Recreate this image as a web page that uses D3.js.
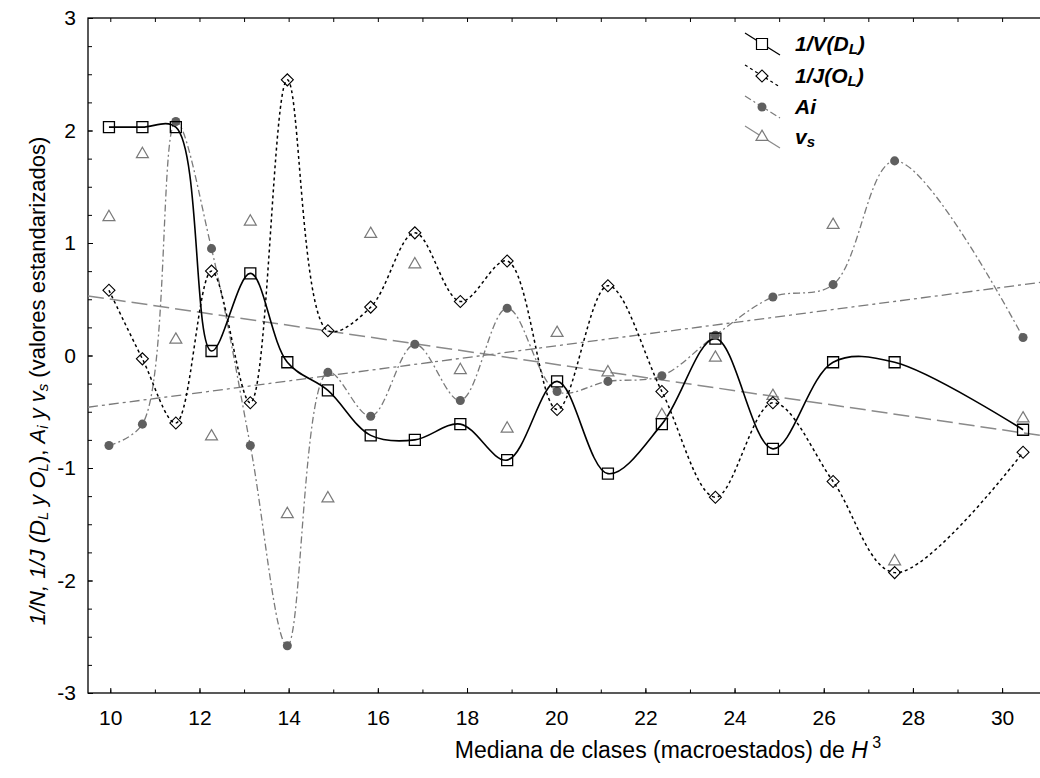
<!DOCTYPE html>
<html>
<head>
<meta charset="utf-8">
<script src="https://cdn.jsdelivr.net/npm/d3@7"></script>
<style>
  body { margin: 0; background: #fff; }
  svg text { font-family: "Liberation Sans", Arial, sans-serif; }
</style>
</head>
<body>
<div id="chart"></div>
<script>
// class medians (x) and the four standardized series
const xMedian = [9.97, 10.72, 11.47, 12.27, 13.14, 13.97, 14.88, 15.84, 16.83, 17.85, 18.9, 20.02, 21.16, 22.37, 23.57, 24.86, 26.21, 27.59, 30.47];
const invV = [2.03, 2.03, 2.03, 0.04, 0.73, -0.06, -0.31, -0.71, -0.75, -0.61, -0.93, -0.23, -1.05, -0.61, 0.15, -0.83, -0.06, -0.06, -0.66];
const invJ = [0.58, -0.03, -0.60, 0.75, -0.42, 2.45, 0.22, 0.43, 1.09, 0.48, 0.84, -0.48, 0.62, -0.32, -1.26, -0.42, -1.12, -1.93, -0.86];
const ai = [-0.80, -0.61, 2.08, 0.95, -0.80, -2.58, -0.15, -0.54, 0.10, -0.40, 0.42, -0.32, -0.23, -0.18, 0.18, 0.52, 0.63, 1.73, 0.16];
const vs = [1.23, 1.79, 0.14, -0.72, 1.19, -1.41, -1.27, 1.08, 0.81, -0.13, -0.65, 0.20, -0.15, -0.53, -0.02, -0.36, 1.16, -1.83, -0.56];

// linear fits (values at both ends of the x range)
const fitX = [9.5, 30.85];
const aiFit = [-0.46, 0.65];
const vsFit = [0.53, -0.71];

const xTicks = [10, 12, 14, 16, 18, 20, 22, 24, 26, 28, 30];
const yTicks = [-3, -2, -1, 0, 1, 2, 3];

const W = 1040, H = 778;
const plot = { left: 88, right: 1040, top: 18, bottom: 693 };

const svg = d3.select("#chart").append("svg")
    .attr("width", W)
    .attr("height", H);

const x = d3.scaleLinear().domain([9.5, 30.85]).range([plot.left, plot.right]);
const y = d3.scaleLinear().domain([-3, 3]).range([plot.bottom, plot.top]);

// axes with inward ticks
const minorX = d3.range(10, 31, 1);
const minorY = d3.range(-3, 3.01, 0.25);
const plain = d => String(d);

svg.append("g")
    .attr("transform", `translate(0,${plot.bottom})`)
    .call(d3.axisBottom(x).tickValues(minorX).tickSizeInner(-3.5).tickSizeOuter(0).tickFormat(""))
    .call(g => g.select(".domain").remove());
svg.append("g")
    .attr("transform", `translate(0,${plot.bottom})`)
    .call(d3.axisBottom(x).tickValues(xTicks).tickSizeInner(-5).tickSizeOuter(0).tickPadding(17).tickFormat(plain))
    .call(g => g.select(".domain").remove())
    .call(g => g.selectAll("text").attr("font-size", 21).attr("fill", "#000"));

svg.append("g")
    .attr("transform", `translate(0,${plot.top})`)
    .call(d3.axisTop(x).tickValues(minorX).tickSizeInner(-4).tickSizeOuter(0).tickFormat(""))
    .call(g => g.select(".domain").remove());

svg.append("g")
    .attr("transform", `translate(${plot.left},0)`)
    .call(d3.axisLeft(y).tickValues(minorY).tickSizeInner(-4).tickSizeOuter(0).tickFormat(""))
    .call(g => g.select(".domain").remove());
svg.append("g")
    .attr("transform", `translate(${plot.left},0)`)
    .call(d3.axisLeft(y).tickValues(yTicks).tickSizeInner(-5).tickSizeOuter(0).tickPadding(12).tickFormat(plain))
    .call(g => g.select(".domain").remove())
    .call(g => g.selectAll("text").attr("font-size", 21).attr("fill", "#000"));

// frame
svg.append("rect")
    .attr("x", plot.left).attr("y", plot.top)
    .attr("width", plot.right - plot.left + 5)
    .attr("height", plot.bottom - plot.top)
    .attr("fill", "none")
    .attr("stroke", "#000")
    .attr("stroke-width", 1.3);

svg.append("clipPath").attr("id", "clip")
    .append("rect")
    .attr("x", plot.left).attr("y", plot.top)
    .attr("width", plot.right - plot.left)
    .attr("height", plot.bottom - plot.top);

const g = svg.append("g").attr("clip-path", "url(#clip)");

// trend lines
g.append("path")
    .datum(fitX.map((d, i) => [d, vsFit[i]]))
    .attr("d", d3.line().x(d => x(d[0])).y(d => y(d[1])))
    .attr("fill", "none")
    .attr("stroke", "#8a8a8a")
    .attr("stroke-width", 1.5)
    .attr("stroke-dasharray", "16,6");

g.append("path")
    .datum(fitX.map((d, i) => [d, aiFit[i]]))
    .attr("d", d3.line().x(d => x(d[0])).y(d => y(d[1])))
    .attr("fill", "none")
    .attr("stroke", "#7a7a7a")
    .attr("stroke-width", 1.3)
    .attr("stroke-dasharray", "10,4,3,4");

const spline = d3.line()
    .x(d => x(d[0]))
    .y(d => y(d[1]))
    .curve(d3.curveCatmullRom.alpha(0.5));

const pts = vals => xMedian.map((d, i) => [d, vals[i]]);

g.append("path")
    .datum(pts(ai))
    .attr("d", spline)
    .attr("fill", "none")
    .attr("stroke", "#7a7a7a")
    .attr("stroke-width", 1.3)
    .attr("stroke-dasharray", "7,3,2,3");

g.append("path")
    .datum(pts(invJ))
    .attr("d", spline)
    .attr("fill", "none")
    .attr("stroke", "#000")
    .attr("stroke-width", 1.5)
    .attr("stroke-dasharray", "3,3");

g.append("path")
    .datum(pts(invV))
    .attr("d", spline)
    .attr("fill", "none")
    .attr("stroke", "#000")
    .attr("stroke-width", 1.6);

// markers
const sq = d3.symbol(d3.symbolSquare, 121);
const dia = d3.symbol(d3.symbolSquare, 72);
const tri = d3.symbol(d3.symbolTriangle, 62);
const dot = d3.symbol(d3.symbolCircle, 64);

g.selectAll(".vs").data(pts(vs)).join("path")
    .attr("transform", d => `translate(${x(d[0])},${y(d[1])})`)
    .attr("d", tri)
    .attr("fill", "none")
    .attr("stroke", "#7a7a7a")
    .attr("stroke-width", 1.2);

g.selectAll(".ai").data(pts(ai)).join("path")
    .attr("transform", d => `translate(${x(d[0])},${y(d[1])})`)
    .attr("d", dot)
    .attr("fill", "#5f5f5f");

g.selectAll(".oj").data(pts(invJ)).join("path")
    .attr("transform", d => `translate(${x(d[0])},${y(d[1])}) rotate(45)`)
    .attr("d", dia)
    .attr("fill", "none")
    .attr("stroke", "#000")
    .attr("stroke-width", 1.1);

g.selectAll(".dv").data(pts(invV)).join("path")
    .attr("transform", d => `translate(${x(d[0])},${y(d[1])})`)
    .attr("d", sq)
    .attr("fill", "none")
    .attr("stroke", "#000")
    .attr("stroke-width", 1.3);

// legend
const legendItems = [
    { sym: sq, rot: 0, fill: "#fff", stroke: "#000", line: "#000", dash: null, main: "1/V(D", sub: "L", tail: ")" },
    { sym: dia, rot: 45, fill: "#fff", stroke: "#000", line: "#000", dash: "3,3", main: "1/J(O", sub: "L", tail: ")" },
    { sym: dot, rot: 0, fill: "#5f5f5f", stroke: "none", line: "#7a7a7a", dash: "7,3,2,3", main: "Ai", sub: "", tail: "" },
    { sym: tri, rot: 0, fill: "#fff", stroke: "#7a7a7a", line: "#8a8a8a", dash: null, main: "v", sub: "s", tail: "" }
];
const legendY = [44, 76, 107, 137];

const lg = svg.append("g");
legendItems.forEach((it, i) => {
    const cy = legendY[i], cx = 762;
    lg.append("line")
        .attr("x1", cx - 17).attr("y1", cy - 11)
        .attr("x2", cx + 18).attr("y2", cy + 11)
        .attr("stroke", it.line)
        .attr("stroke-width", 1.2)
        .attr("stroke-dasharray", it.dash);
    lg.append("path")
        .attr("transform", `translate(${cx},${cy}) rotate(${it.rot})`)
        .attr("d", it.sym)
        .attr("fill", it.fill)
        .attr("stroke", it.stroke)
        .attr("stroke-width", 1.2);
    const t = lg.append("text")
        .attr("x", 795).attr("y", cy + 7)
        .attr("font-size", 21)
        .attr("font-weight", "bold")
        .attr("font-style", "italic");
    t.append("tspan").text(it.main);
    if (it.sub) t.append("tspan").attr("font-size", 15).attr("baseline-shift", "-22%").text(it.sub);
    if (it.tail) t.append("tspan").text(it.tail);
});

// axis titles
const xl = svg.append("text")
    .attr("x", 668).attr("y", 758)
    .attr("text-anchor", "middle")
    .attr("font-size", 23);
xl.append("tspan").text("Mediana de clases (macroestados) de ");
xl.append("tspan").attr("font-style", "italic").text("H");
xl.append("tspan").attr("font-size", 16).attr("baseline-shift", "60%").text(" 3");

const yl = svg.append("text")
    .attr("transform", "translate(45,381) rotate(-90)")
    .attr("text-anchor", "middle")
    .attr("font-size", 22);
const ylParts = [
    ["1/N, 1/J (D", "i", 0], ["L", "i", 1], [" y O", "i", 0], ["L", "i", 1], ["), ", "n", 0],
    ["A", "i", 0], ["i", "i", 1], [" y v", "i", 0], ["s", "i", 1], [" (valores estandarizados)", "n", 0]
];
ylParts.forEach(p => {
    const s = yl.append("tspan").text(p[0])
        .attr("font-style", p[1] === "i" ? "italic" : "normal");
    if (p[2]) s.attr("font-size", 15).attr("baseline-shift", "-22%");
});
</script>
</body>
</html>
